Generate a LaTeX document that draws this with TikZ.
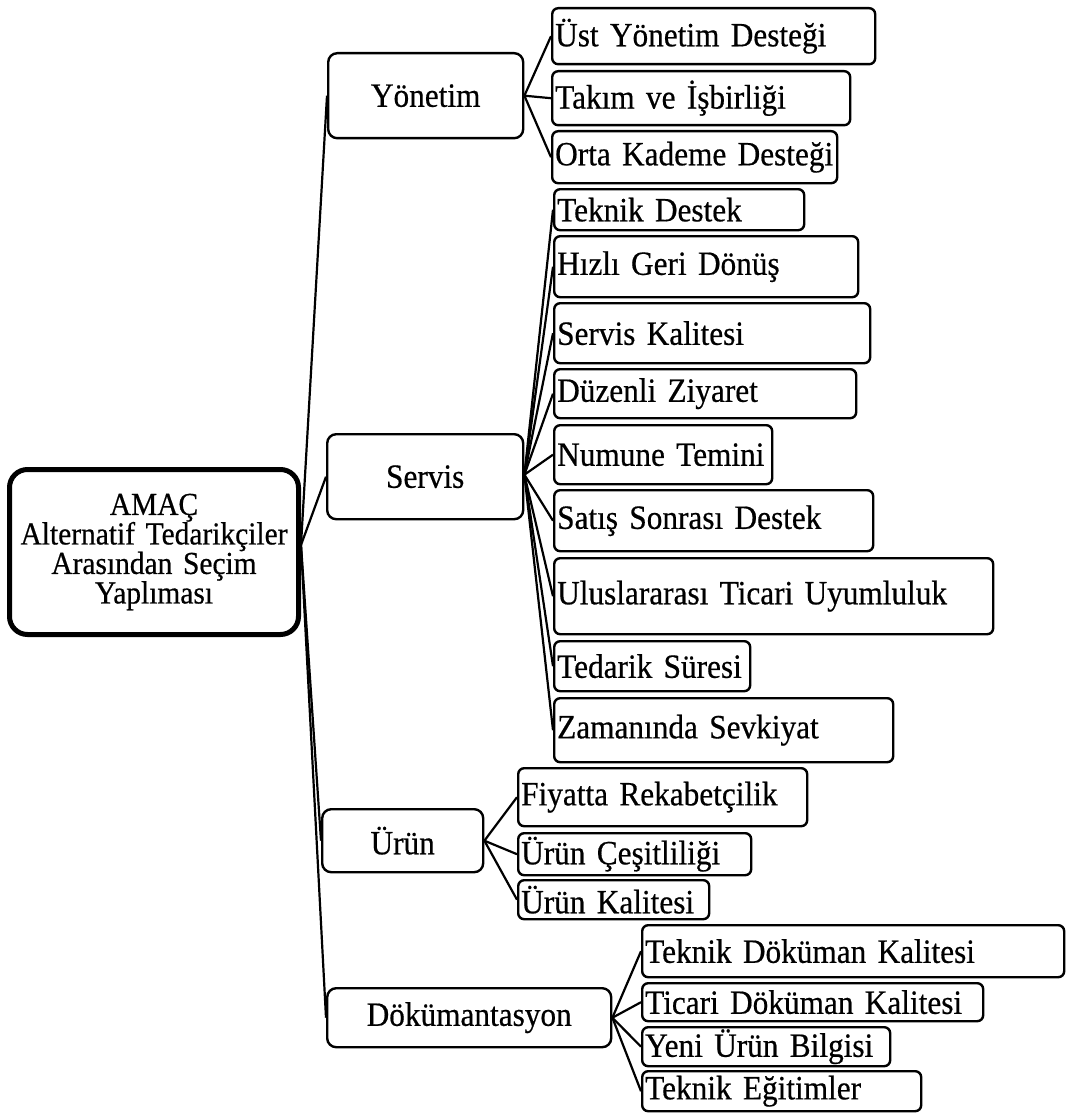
\documentclass[tikz,border=0pt]{standalone}
\usepackage{fontspec}
\setmainfont{Liberation Serif}[FakeBold=0.5, FakeStretch=0.92]
\usetikzlibrary{backgrounds}
\tikzset{
  boxbase/.style={draw, fill=white, anchor=north west, inner ysep=0pt, inner xsep=3pt},
  leaf/.style={boxbase, line width=2.4pt, rounded corners=6pt, align=left, font=\fontsize{34}{35}\selectfont},
  mid/.style={boxbase, line width=2.4pt, rounded corners=9pt, align=center, font=\fontsize{34}{35}\selectfont},
  rootbox/.style={boxbase, line width=5pt, rounded corners=18pt, align=center, font=\fontsize{32}{29.5}\selectfont},
  conn/.style={line width=2.2pt}
}
\newcommand\bx[7]{%
  \pgfmathsetmacro\bxw{#4-#2-6}%
  \pgfmathsetmacro\bxh{#5-#3}%
  \node[#6, text width=\bxw pt, minimum height=\bxh pt] (#1) at (#2,#3) {#7};}
\begin{document}
\begin{tikzpicture}[x=1pt,y=-1pt]
\useasboundingbox (0,0) rectangle (1075,1113);
% root
\bx{root}{7}{467}{296}{632}{rootbox}{AMAÇ\\Alternatif Tedarikçiler\\Arasından Seçim\\Yaplıması}
% level 1
\bx{yon}{327}{52}{522}{137}{mid}{Yönetim}
\bx{ser}{326}{433}{522}{518}{mid}{Servis}
\bx{urn}{321}{808}{482}{871}{mid}{Ürün}
\bx{dok}{326}{987}{610}{1046}{mid}{Dökümantasyon}
% Yönetim children
\bx{ust}{551}{7}{874}{63}{leaf}{Üst Yönetim Desteği}
\bx{tak}{551}{70}{849}{124}{leaf}{Takım ve İşbirliği}
\bx{ort}{551}{130}{836}{182}{leaf}{Orta Kademe Desteği}
% Servis children
\bx{tek}{553}{188}{803}{229}{leaf}{Teknik Destek}
\bx{hiz}{553}{235}{857}{296}{leaf}{Hızlı Geri Dönüş}
\bx{skal}{553}{302}{869}{362}{leaf}{Servis Kalitesi}
\bx{duz}{553}{368}{855}{417}{leaf}{Düzenli Ziyaret}
\bx{num}{553}{424}{771}{483}{leaf}{Numune Temini}
\bx{sat}{553}{489}{872}{550}{leaf}{Satış Sonrası Destek}
\bx{ulu}{553}{557}{992}{633}{leaf}{Uluslararası Ticari Uyumluluk}
\bx{ted}{553}{640}{749}{690}{leaf}{Tedarik Süresi}
\bx{zam}{553}{697}{892}{761}{leaf}{Zamanında Sevkiyat}
% Ürün children
\bx{fiy}{517}{767}{806}{825}{leaf}{Fiyatta Rekabetçilik}
\bx{ces}{517}{832}{750}{874}{leaf}{Ürün Çeşitliliği}
\bx{ukal}{517}{879}{708}{918}{leaf}{Ürün Kalitesi}
% Dökümantasyon children
\bx{tdk}{641}{924}{1063}{976}{leaf}{Teknik Döküman Kalitesi}
\bx{tic}{641}{982}{982}{1020}{leaf}{Ticari Döküman Kalitesi}
\bx{yen}{641}{1026}{889}{1065}{leaf}{Yeni Ürün Bilgisi}
\bx{teg}{641}{1070}{920}{1110}{leaf}{Teknik Eğitimler}
\begin{pgfonlayer}{background}
\coordinate (ro) at ([yshift=7pt]root.east);
\foreach \c in {yon,ser,urn,dok} \draw[conn] (ro) -- (\c.west);
\foreach \c in {ust,tak,ort} \draw[conn] (yon.east) -- (\c.west);
\foreach \c in {tek,hiz,skal,duz,num,sat,ulu,ted,zam} \draw[conn] ([yshift=2pt]ser.east) -- (\c.west);
\foreach \c in {fiy,ces,ukal} \draw[conn] (urn.east) -- (\c.west);
\foreach \c in {tdk,tic,yen,teg} \draw[conn] (dok.east) -- (\c.west);
\end{pgfonlayer}
\end{tikzpicture}
\end{document}
